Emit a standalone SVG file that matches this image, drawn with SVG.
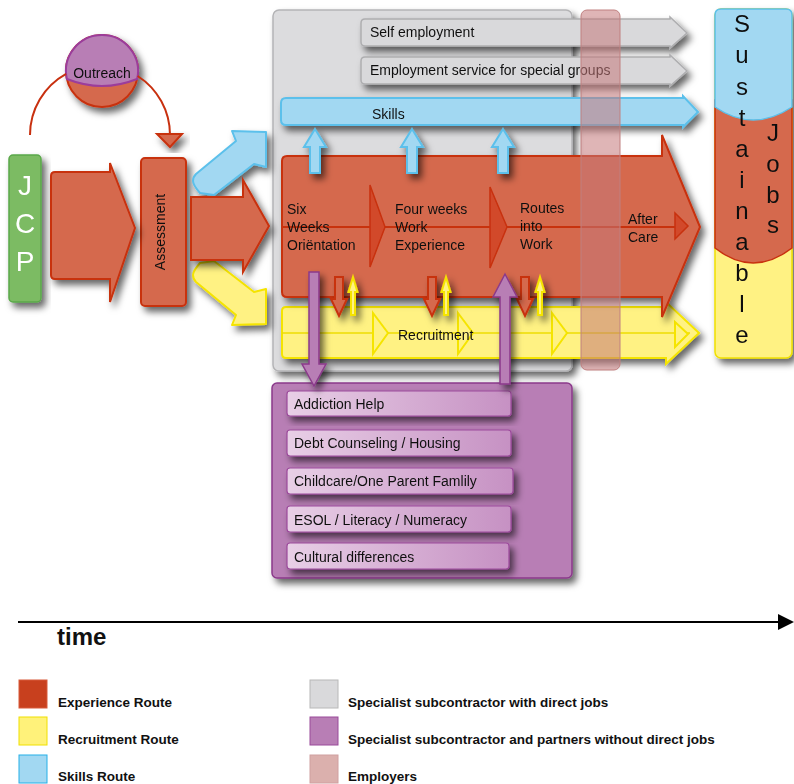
<svg xmlns="http://www.w3.org/2000/svg" width="794" height="784" viewBox="0 0 794 784">
<defs>
<filter id="sh" x="-20%" y="-20%" width="150%" height="160%"><feDropShadow dx="4" dy="5" stdDeviation="3.5" flood-color="#000" flood-opacity="0.6"/></filter>
<linearGradient id="pg" x1="0" y1="0" x2="1" y2="0"><stop offset="0" stop-color="#e8cfe6"/><stop offset="1" stop-color="#c691c3"/></linearGradient>
<style>
.t{font-family:"Liberation Sans",Arial,sans-serif;font-size:14px;fill:#111}
.red{fill:#d5694d;stroke:#c8300f;stroke-width:2}
.chev{fill:#d24a2c;stroke:#c8300f;stroke-width:1.5}
.yel{fill:#fff283;stroke:#f5e400;stroke-width:2}
.blu{fill:#a2d8f2;stroke:#5bc0eb;stroke-width:2}
.gry{fill:#d9d9db;stroke:#aeaeb0;stroke-width:1.5}
.pur{fill:#b87eb5;stroke:#8b3a8b;stroke-width:1.5}
.item{fill:url(#pg);stroke:#9b4a9b;stroke-width:1.2}
.lg{font-family:"Liberation Sans",Arial,sans-serif;font-size:13.5px;font-weight:bold;fill:#111}
.big{font-family:"Liberation Sans",Arial,sans-serif;font-size:24px;fill:#111}
</style>
</defs>

<g id="grey-box"><rect x="273" y="10" width="299" height="361" rx="6" fill="#dcdcde" stroke="#b4b4b6" stroke-width="1.5" filter="url(#sh)"/></g>

<g id="self-employment" filter="url(#sh)">
<path class="gry" d="M365,19 L670,19 L670,17 L687,33 L670,48 L670,46 L365,46 Q361,46 361,42 L361,23 Q361,19 365,19 Z"/>
<text class="t" x="370" y="37">Self employment</text>
</g>
<g id="employment-service" filter="url(#sh)">
<path class="gry" d="M365,57 L670,57 L670,55 L687,71 L670,86 L670,84 L365,84 Q361,84 361,80 L361,61 Q361,57 365,57 Z"/>
<text class="t" x="370" y="75">Employment service for special groups</text>
</g>
<g id="skills" filter="url(#sh)">
<path class="blu" d="M286,98 L683,98 L683,96 L698,112 L683,127 L683,125 L286,125 Q281,125 281,120 L281,103 Q281,98 286,98 Z"/>
<text class="t" x="372" y="119">Skills</text>
</g>

<g id="recruitment" filter="url(#sh)">
<path class="yel" d="M286,307 L666,307 L666,302 L699,333 L666,364 L666,358 L286,358 Q282,358 282,354 L282,311 Q282,307 286,307 Z"/>
<line x1="282" y1="333" x2="690" y2="333" stroke="#eedd00" stroke-width="1.5"/>
<path class="yel" d="M373,313 L388,333 L373,354 Z"/>
<path class="yel" d="M458,313 L473,333 L458,354 Z"/>
<path class="yel" d="M552,313 L567,333 L552,354 Z"/>
<path class="yel" d="M675,322 L688,334 L675,347 Z"/>
<text class="t" x="398" y="340">Recruitment</text>
</g>

<g id="experience-route" filter="url(#sh)">
<path class="red" d="M287,156 L662,156 L662,135 L700,227 L662,317 L662,297 L287,297 Q282,297 282,292 L282,161 Q282,156 287,156 Z"/>
<line x1="282" y1="227" x2="680" y2="227" stroke="#c8300f" stroke-width="2"/>
<path class="chev" d="M370,185 L385,227 L370,267 Z"/>
<path class="chev" d="M490,187 L507,227 L490,268 Z"/>
<path class="chev" d="M675,213 L688,226 L675,239 Z"/>
<text class="t" x="287" y="214">Six</text>
<text class="t" x="287" y="232">Weeks</text>
<text class="t" x="287" y="250">Oriëntation</text>
<text class="t" x="395" y="214">Four weeks</text>
<text class="t" x="395" y="232">Work</text>
<text class="t" x="395" y="250">Experience</text>
<text class="t" x="520" y="213">Routes</text>
<text class="t" x="520" y="231">into</text>
<text class="t" x="520" y="249">Work</text>
<text class="t" x="628" y="224">After</text>
<text class="t" x="628" y="242">Care</text>
</g>

<g id="jcp" filter="url(#sh)">
<rect x="9" y="155" width="32" height="147" rx="4" fill="#7cbb63" stroke="#5aa84a" stroke-width="1.5"/>
<text x="25" y="195" text-anchor="middle" font-family="Liberation Sans,Arial,sans-serif" font-size="28" fill="#fff">J</text>
<text x="25" y="233" text-anchor="middle" font-family="Liberation Sans,Arial,sans-serif" font-size="28" fill="#fff">C</text>
<text x="25" y="271" text-anchor="middle" font-family="Liberation Sans,Arial,sans-serif" font-size="28" fill="#fff">P</text>
</g>

<g id="outreach" filter="url(#sh)">
<circle cx="102" cy="71" r="36" class="red"/>
<path d="M66.9,79 A36,36 0 1 1 137.1,79 Q102,93 66.9,79 Z" fill="#b87eb5" stroke="#9b3c9b" stroke-width="2"/>
<text class="t" x="102" y="78" text-anchor="middle">Outreach</text>
</g>

<g id="assessment" filter="url(#sh)">
<rect x="141" y="158" width="45" height="148" rx="4" class="red"/>
<text class="t" x="0" y="0" text-anchor="middle" transform="translate(165,232) rotate(-90)">Assessment</text>
</g>

<g id="arrow-jcp-assessment" filter="url(#sh)">
<path class="red" d="M55,172 L110,172 L110,163 L135,228 L110,302 L110,279 L55,279 Q51,279 51,275 L51,176 Q51,172 55,172 Z"/>
</g>
<g id="arrow-skills-route" filter="url(#sh)">
<path class="blu" stroke-linejoin="round" d="M193,181 Q193,185 200,193 L214,195 L254,164 L266,167 L266,132 L232,131 L236,141 L196,174 Q193,177 193,181 Z"/>
</g>
<g id="arrow-recruitment-route" filter="url(#sh)">
<path class="yel" stroke-linejoin="round" d="M193,275 Q193,271 200,263 L214,261 L254,292 L266,289 L266,324 L232,325 L236,315 L196,282 Q193,279 193,275 Z"/>
</g>
<g id="arrow-experience-route" filter="url(#sh)">
<path class="red" d="M191,197 L243,197 L243,180 L269,226 L243,272 L243,260 L191,260 Z"/>
</g>

<g id="partners-box">
<rect x="272" y="383" width="300" height="195" rx="5" class="pur" filter="url(#sh)"/>
<g id="addiction" filter="url(#sh)"><rect x="287" y="391" width="224" height="25" rx="3" class="item"/><text class="t" x="294" y="409">Addiction Help</text></g>
<g id="debt" filter="url(#sh)"><rect x="287" y="430" width="224" height="26" rx="3" class="item"/><text class="t" x="294" y="448">Debt Counseling / Housing</text></g>
<g id="childcare" filter="url(#sh)"><rect x="287" y="468" width="226" height="26" rx="3" class="item"/><text class="t" x="294" y="486">Childcare/One Parent Famlily</text></g>
<g id="esol" filter="url(#sh)"><rect x="287" y="506" width="224" height="26" rx="3" class="item"/><text class="t" x="294" y="525">ESOL / Literacy / Numeracy</text></g>
<g id="cultural" filter="url(#sh)"><rect x="287" y="543" width="222" height="26" rx="3" class="item"/><text class="t" x="294" y="562">Cultural differences</text></g>
</g>

<g id="connectors">
<path d="M30,135 A70,70 0 0 1 66.1,73.8" fill="none" stroke="#c8300f" stroke-width="2"/>
<path d="M137.6,76 A70,70 0 0 1 170,135" fill="none" stroke="#c8300f" stroke-width="2"/>
<path d="M157,134 L182,134 L170,147 Z" class="red" filter="url(#sh)"/>
<g class="blu" filter="url(#sh)">
<path d="M315,129 L326,147 L320,147 L320,173 L310,173 L310,147 L304,147 Z"/>
<path d="M412,129 L423,147 L417,147 L417,173 L407,173 L407,147 L401,147 Z"/>
<path d="M503,129 L514,147 L508,147 L508,173 L498,173 L498,147 L492,147 Z"/>
</g>
<g filter="url(#sh)">
<path class="red" stroke-width="1.5" d="M335,277 L343,277 L343,299 L347,299 L339,316 L331,299 L335,299 Z"/>
<path class="red" stroke-width="1.5" d="M428,277 L436,277 L436,299 L440,299 L432,316 L424,299 L428,299 Z"/>
<path class="red" stroke-width="1.5" d="M521,277 L529,277 L529,299 L533,299 L525,316 L517,299 L521,299 Z"/>
<path class="yel" stroke-width="1.2" d="M353,277 L357.5,292 L355,292 L355,315 L351,315 L351,292 L348.5,292 Z"/>
<path class="yel" stroke-width="1.2" d="M446,277 L450.5,292 L448,292 L448,315 L444,315 L444,292 L441.5,292 Z"/>
<path class="yel" stroke-width="1.2" d="M540,277 L544.5,292 L542,292 L542,315 L538,315 L538,292 L535.5,292 Z"/>
</g>
<g class="pur" filter="url(#sh)">
<path d="M309,272 L319,272 L319,364 L326,364 L314,386 L302,364 L309,364 Z"/>
<path d="M505,274 L517,297 L510,297 L510,384 L500,384 L500,297 L493,297 Z"/>
</g>
<line x1="18" y1="622" x2="780" y2="622" stroke="#000" stroke-width="2"/>
<path d="M778,614 L794,622 L778,630 Z" fill="#000"/>
</g>

<g id="employers"><rect x="581" y="10" width="39" height="360" rx="6" fill="#c4787a" fill-opacity="0.55" stroke="#c08080" stroke-width="1"/></g>

<g id="sustainable-jobs" filter="url(#sh)">
<rect x="715" y="9" width="77" height="349" rx="6" fill="#fff283" stroke="#f0e000" stroke-width="1.5"/>
<path d="M715,100 L792,100 L792,248 Q753,278 715,248 Z" fill="#d5694d" stroke="#c8300f" stroke-width="1.5"/>
<path d="M721,9 L786,9 Q792,9 792,15 L792,107 Q753,133 715,107 L715,15 Q715,9 721,9 Z" fill="#a2d8f2" stroke="#5bc0eb" stroke-width="1.5"/>
<text class="big" text-anchor="middle"><tspan x="742" y="32">S</tspan><tspan x="742" y="63">u</tspan><tspan x="742" y="95">s</tspan><tspan x="742" y="126">t</tspan><tspan x="742" y="157">a</tspan><tspan x="742" y="188">i</tspan><tspan x="742" y="219">n</tspan><tspan x="742" y="250">a</tspan><tspan x="742" y="281">b</tspan><tspan x="742" y="312">l</tspan><tspan x="742" y="343">e</tspan></text>
<text class="big" text-anchor="middle"><tspan x="773" y="141">J</tspan><tspan x="773" y="172">o</tspan><tspan x="773" y="203">b</tspan><tspan x="773" y="233">s</tspan></text>
</g>

<g id="legend">
<text x="57" y="645" font-family="Liberation Sans,Arial,sans-serif" font-size="24" font-weight="bold" fill="#111">time</text>
<rect x="19" y="680" width="28" height="28" fill="#c8401e" stroke="#d85a3a"/>
<text class="lg" x="58" y="707">Experience Route</text>
<rect x="19" y="717" width="28" height="28" fill="#fff27a" stroke="#f0e000"/>
<text class="lg" x="58" y="744">Recruitment Route</text>
<rect x="19" y="755" width="28" height="28" fill="#a2d8f2" stroke="#24b0e8"/>
<text class="lg" x="58" y="781">Skills Route</text>
<rect x="310" y="680" width="28" height="28" fill="#d9d9db" stroke="#b8b8b8"/>
<text class="lg" x="348" y="707">Specialist subcontractor with direct jobs</text>
<rect x="310" y="717" width="28" height="28" fill="#b87eb5" stroke="#9a4a9a"/>
<text class="lg" x="348" y="744">Specialist subcontractor and partners without direct jobs</text>
<rect x="310" y="755" width="28" height="28" fill="#dbb0ad" stroke="#d0a0a0"/>
<text class="lg" x="348" y="781">Employers</text>
</g>
</svg>
